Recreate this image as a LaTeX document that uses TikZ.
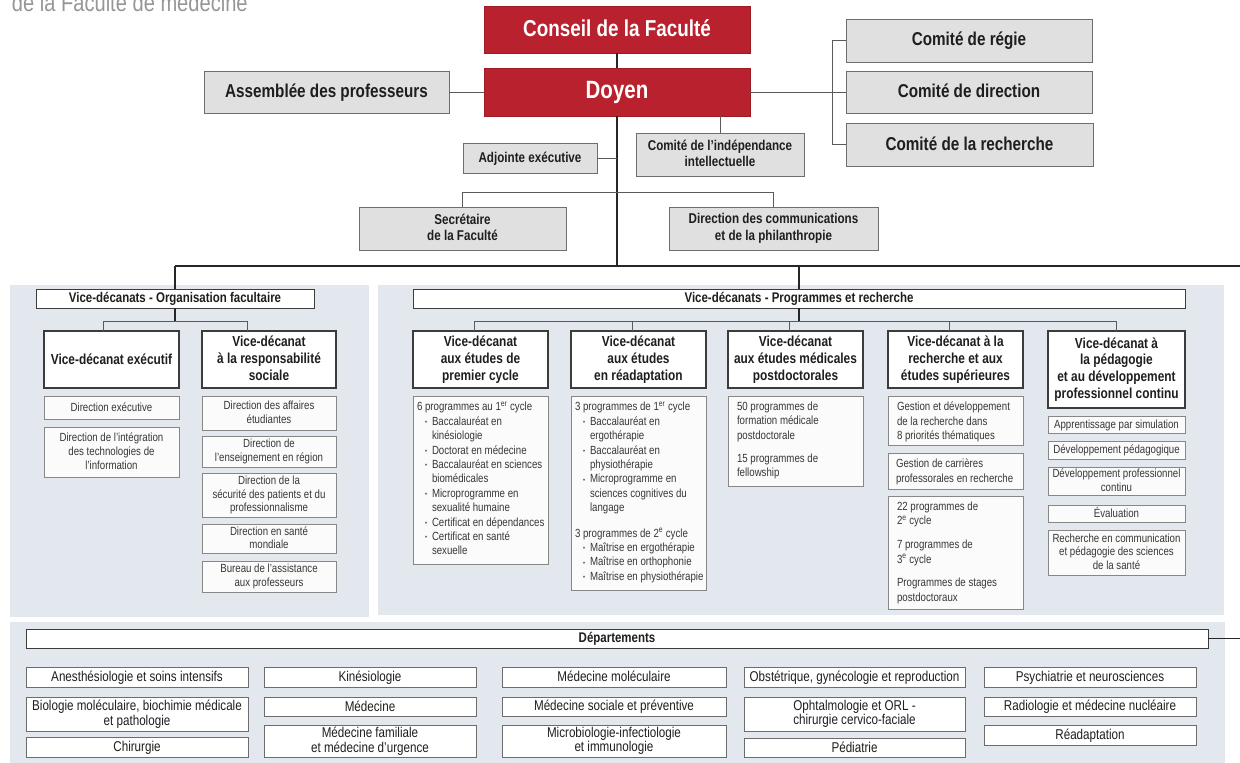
\documentclass[tikz,border=0pt]{standalone}
\usepackage{fontspec}
\setmainfont{Liberation Sans}[FakeStretch=0.82]
\usetikzlibrary{calc}
\definecolor{redA}{RGB}{184,33,45}
\definecolor{panelA}{RGB}{226,232,237}
\definecolor{gfill}{RGB}{224,224,224}
\definecolor{gborder}{RGB}{110,110,110}
\definecolor{hborder}{RGB}{60,60,60}
\definecolor{sborder}{RGB}{135,135,135}
\definecolor{sfill}{RGB}{251,251,251}
\definecolor{txtA}{RGB}{30,30,30}
\definecolor{stxt}{RGB}{55,55,55}
\definecolor{lcol}{RGB}{90,90,90}
\definecolor{titlegray}{RGB}{150,150,150}
\newcommand\bx[6]{\node[#1, anchor=north west, minimum width={#4-#2}, minimum height={#5-#3}] (#6) at (#2,#3)}
\newcommand\bul{\hspace*{8pt}\makebox[7pt][l]{\raisebox{0.6pt}{\fontsize{7}{7}\selectfont•}}}
\newcommand\ind{\hspace*{15pt}}
\newcommand\mystrut{\vrule width0pt height0.8em depth0.16em\relax}
\tikzset{
  every node/.style={inner sep=0pt, outer sep=0pt},
  strutted/.style={execute at begin node=\mystrut, execute at end node=\mystrut},
  redbox/.style={strutted, draw=redA!85!black, fill=redA, text=white, line width=0.8pt, font=\bfseries\fontsize{23}{26}\selectfont},
  graybox/.style={strutted, draw=gborder, fill=gfill, text=txtA, line width=1pt, align=center, font=\bfseries\fontsize{18.6}{21}\selectfont},
  smallgray/.style={graybox, font=\bfseries\fontsize{14.2}{16.8}\selectfont},
  titlebox/.style={strutted, draw=hborder, fill=white, text=txtA, line width=0.9pt, font=\bfseries\fontsize{14}{16}\selectfont},
  headbox/.style={strutted, draw=hborder, fill=white, text=txtA, line width=1.3pt, align=center, font=\bfseries\fontsize{14.5}{16.7}\selectfont},
  subbox/.style={strutted, draw=sborder, fill=sfill, text=stxt, line width=0.9pt, align=center, font=\fontsize{11.8}{13.6}\selectfont},
  cbox/.style={draw=sborder, fill=sfill, line width=0.9pt},
  ctext/.style={anchor=north west, align=left, text=stxt, font=\fontsize{11.8}{14.4}\selectfont},
  deptbox/.style={strutted, draw=sborder!80!black, fill=white, text=txtA, line width=0.9pt, align=center, font=\fontsize{14.2}{14.6}\selectfont},
  conn/.style={draw=lcol, line width=1pt},
  mainln/.style={draw=black!85, line width=1.8pt},
  midln/.style={draw=black!85, line width=1.4pt},
  panel/.style={fill=panelA},
}
\begin{document}
\begin{tikzpicture}[x=1pt,y=-1pt]
\useasboundingbox (0,0) rectangle (1240,763);
\node[anchor=base west, text=titlegray, font=\fontsize{24.5}{26}\selectfont] (pagetitle) at (12,11) {de la Faculté de médecine};

% panels
\fill[panel] (10,285) rectangle (369,617);
\fill[panel] (378,285) rectangle (1224,615);
\fill[panel] (10,622) rectangle (1225,763);

% top
\bx{redbox}{484}{6}{750}{53}{conseil} {Conseil de la Faculté};
\bx{redbox}{484}{68}{750}{116}{doyen} {\fontsize{25}{28}\selectfont Doyen};
\bx{graybox}{204}{71}{449}{113}{assem} {Assemblée des professeurs};
\bx{graybox}{846}{19}{1092}{62}{regie} {Comité de régie};
\bx{graybox}{846}{71}{1092}{113}{direc} {Comité de direction};
\bx{graybox}{846}{123}{1093}{166}{rech} {Comité de la recherche};
\bx{smallgray}{463}{143}{597}{173}{adj} {Adjointe exécutive};
\bx{smallgray}{636}{133}{804}{176}{indep} {Comité de l’indépendance\\intellectuelle};
\bx{smallgray}{359}{207}{566}{250}{secr} {Secrétaire\\de la Faculté};
\bx{smallgray}{669}{207}{878}{250}{comm} {Direction des communications\\et de la philanthropie};

\coordinate (hub) at (617,266);
\coordinate (edgeA) at (1240,266);
\draw[conn] (assem.east) -- (doyen.west);
\draw[conn] (doyen.east) -- (direc.west);
\draw[conn] (regie.west) -- ++(-14,0) |- (rech.west);
\draw[midln] (conseil.south) -- (doyen.north);
\draw[midln] (doyen.south) -- (hub);
\draw[conn] (adj.east) -- (adj.east -| hub);
\draw[conn] (doyen.south -| indep.north) -- (indep.north);
\draw[conn] (secr.north) -- ++(0,-15) -| (comm.north);

% left panel
\bx{titlebox}{36}{289}{314}{308}{orgT} {Vice-décanats - Organisation facultaire};
\bx{headbox}{44}{331}{179}{388}{vde} {Vice-décanat exécutif};
\bx{headbox}{202}{331}{336}{388}{vrs} {Vice-décanat\\à la responsabilité\\sociale};
\bx{subbox}{44}{396}{179}{419}{s1} {Direction exécutive};
\bx{subbox}{44}{427}{179}{477}{s2} {Direction de l’intégration\\des technologies de\\l’information};
\bx{subbox}{202}{396}{336}{430}{s3} {Direction des affaires\\étudiantes};
\bx{subbox}{202}{436}{336}{467}{s4} {Direction de\\l’enseignement en région};
\bx{subbox}{202}{473}{336}{517}{s5} {Direction de la\\sécurité des patients et du\\professionnalisme};
\bx{subbox}{202}{524}{336}{553}{s6} {Direction en santé\\mondiale};
\bx{subbox}{202}{561}{336}{592}{s7} {Bureau de l’assistance\\aux professeurs};

% right panel
\bx{titlebox}{413}{289}{1185}{308}{progT} {Vice-décanats - Programmes et recherche};
\bx{headbox}{413}{331}{548}{388}{h1} {Vice-décanat\\aux études de\\premier cycle};
\bx{headbox}{571}{331}{706}{388}{h2} {Vice-décanat\\aux études\\en réadaptation};
\bx{headbox}{728}{331}{863}{388}{h3} {Vice-décanat\\aux études médicales\\postdoctorales};
\bx{headbox}{888}{331}{1023}{388}{h4} {Vice-décanat à la\\recherche et aux\\études supérieures};
\bx{headbox}{1048}{331}{1185}{408}{h5} {Vice-décanat à\\la pédagogie\\et au développement\\professionnel continu};

\bx{cbox}{413}{396}{548}{564}{c1} {};
\node[ctext] (c1t) at ($(c1.north west)+(4,6)$) {6 programmes au 1\textsuperscript{er} cycle\\
\bul Baccalauréat en\\ \ind kinésiologie\\
\bul Doctorat en médecine\\
\bul Baccalauréat en sciences\\ \ind biomédicales\\
\bul Microprogramme en\\ \ind sexualité humaine\\
\bul Certificat en dépendances\\
\bul Certificat en santé\\ \ind sexuelle};

\bx{cbox}{571}{396}{706}{590}{c2} {};
\node[ctext] (c2t) at ($(c2.north west)+(4,6)$) {3 programmes de 1\textsuperscript{er} cycle\\
\bul Baccalauréat en\\ \ind ergothérapie\\
\bul Baccalauréat en\\ \ind physiothérapie\\
\bul Microprogramme en\\ \ind sciences cognitives du\\ \ind langage\\[11pt]
3 programmes de 2\textsuperscript{e} cycle\\
\bul Maîtrise en ergothérapie\\
\bul Maîtrise en orthophonie\\
\bul Maîtrise en physiothérapie};

\bx{cbox}{728}{396}{863}{486}{c3} {};
\node[ctext] (c3t) at ($(c3.north west)+(9,6)$) {50 programmes de\\formation médicale\\postdoctorale\\[8.5pt]15 programmes de\\fellowship};

\bx{cbox}{888}{396}{1023}{445}{c4a} {};
\node[ctext] (c4at) at ($(c4a.north west)+(9,6)$) {Gestion et développement\\de la recherche dans\\8 priorités thématiques};
\bx{cbox}{888}{453}{1023}{489}{c4b} {};
\node[ctext] (c4bt) at ($(c4b.north west)+(8,6)$) {Gestion de carrières\\professorales en recherche};
\bx{cbox}{888}{496}{1023}{609}{c4c} {};
\node[ctext] (c4ct) at ($(c4c.north west)+(9,6)$) {22 programmes de\\2\textsuperscript{e} cycle\\[9.5pt]7 programmes de\\3\textsuperscript{e} cycle\\[9pt]Programmes de stages\\postdoctoraux};

\bx{subbox}{1048}{416}{1185}{433}{p1} {Apprentissage par simulation};
\bx{subbox}{1048}{441}{1185}{459}{p2} {Développement pédagogique};
\bx{subbox}{1048}{467}{1185}{495}{p3} {Développement professionnel\\continu};
\bx{subbox}{1048}{505}{1185}{522}{p4} {Évaluation};
\bx{subbox}{1048}{530}{1185}{575}{p5} {Recherche en communication\\et pédagogie des sciences\\de la santé};

% connectors to panels
\draw[mainln] (orgT.north |- hub) -- (edgeA);
\draw[mainln] (orgT.north |- hub) -- (orgT.north);
\draw[mainln] (progT.north |- hub) -- (progT.north);
\draw[midln] (orgT.south) -- ++(0,13);
\draw[conn] ($(vde.north)+(-8,0)$) -- ++(0,-10) -| ($(vrs.north)+(-22,0)$);
\draw[midln] (progT.south) -- ++(0,13);
\draw[conn] ($(h1.north)+(-6,0)$) -- ++(0,-10) -| (h5.north);
\draw[conn] ($(h2.north)+(-6,0)$) -- ++(0,-10);
\draw[conn] ($(h3.north)+(-6,0)$) -- ++(0,-10);
\draw[conn] ($(h4.north)+(-6,0)$) -- ++(0,-10);

% departments
\bx{titlebox}{26}{629}{1208}{648}{deptT} {Départements};
\coordinate (edgeB) at (1240,638.5);
\draw[midln] (deptT.east) -- (edgeB);

\bx{deptbox}{26}{667}{248}{687}{d11} {Anesthésiologie et soins intensifs};
\bx{deptbox}{26}{697}{248}{731}{d12} {Biologie moléculaire, biochimie médicale\\et pathologie};
\bx{deptbox}{26}{737}{248}{757}{d13} {Chirurgie};
\bx{deptbox}{264}{667}{476}{687}{d21} {Kinésiologie};
\bx{deptbox}{264}{697}{476}{716}{d22} {Médecine};
\bx{deptbox}{264}{725}{476}{757}{d23} {Médecine familiale\\et médecine d’urgence};
\bx{deptbox}{502}{667}{726}{687}{d31} {Médecine moléculaire};
\bx{deptbox}{502}{697}{726}{716}{d32} {Médecine sociale et préventive};
\bx{deptbox}{502}{725}{726}{757}{d33} {Microbiologie-infectiologie\\et immunologie};
\bx{deptbox}{744}{667}{965}{687}{d41} {Obstétrique, gynécologie et reproduction};
\bx{deptbox}{744}{697}{965}{731}{d42} {Ophtalmologie et ORL -\\chirurgie cervico-faciale};
\bx{deptbox}{744}{738}{965}{757}{d43} {Pédiatrie};
\bx{deptbox}{984}{667}{1196}{687}{d51} {Psychiatrie et neurosciences};
\bx{deptbox}{984}{697}{1196}{716}{d52} {Radiologie et médecine nucléaire};
\bx{deptbox}{984}{725}{1196}{745}{d53} {Réadaptation};
\end{tikzpicture}
\end{document}
